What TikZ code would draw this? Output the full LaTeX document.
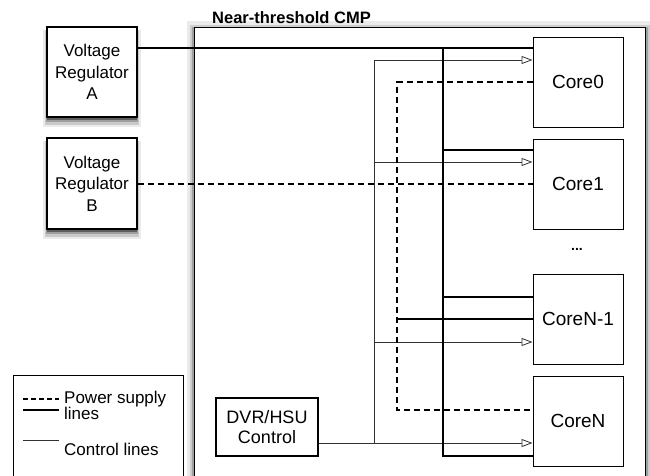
\documentclass[tikz,border=0pt]{standalone}
\usepackage{fontspec}
\setmainfont{Liberation Sans}
\usetikzlibrary{arrows.meta,shadows}
\begin{document}
\begin{tikzpicture}[x=1pt,y=-1pt,
  box/.style={draw,line width=1.3pt,fill=white,inner sep=0pt,align=center},
  core/.style={draw,line width=1pt,fill=white,minimum width=90pt,minimum height=90pt,inner sep=0pt,font=\fontsize{19}{22}\selectfont},
  pw/.style={line width=2.5pt},
  pwd/.style={line width=2.5pt,dash pattern=on 6pt off 4pt},
  ctl/.style={line width=0.8pt,draw=black!80},
  ctla/.style={ctl,-{Triangle[open,length=11pt,width=8pt,line width=0.8pt,fill=white]}},
  shd/.style={
    general shadow={shadow xshift=0pt,shadow yshift=-6pt,shadow scale=1.08,fill=black,opacity=0.08},
    general shadow={shadow xshift=0pt,shadow yshift=-5pt,shadow scale=1.05,fill=black,opacity=0.14},
    general shadow={shadow xshift=0pt,shadow yshift=-4pt,shadow scale=1.02,fill=black,opacity=0.22},
    general shadow={shadow xshift=0pt,shadow yshift=-2.5pt,shadow scale=1.00,fill=black,opacity=0.40}},
  cshd/.style={
    general shadow={shadow xshift=0pt,shadow yshift=-2pt,shadow scale=1.035,fill=black,opacity=0.08},
    general shadow={shadow xshift=0pt,shadow yshift=-2pt,shadow scale=1.022,fill=black,opacity=0.13},
    general shadow={shadow xshift=0pt,shadow yshift=-2pt,shadow scale=1.011,fill=black,opacity=0.22}},
  lbl/.style={inner sep=0pt,font=\fontsize{17}{17}\selectfont}
]
\useasboundingbox (0,0) rectangle (650,475);
\clip (0,0) rectangle (650,475);

% chip box
\node[draw,line width=1.3pt,fill=white,minimum width=451pt,minimum height=470pt,anchor=north west,inner sep=0pt,cshd] (cmp) at (194,27) {};
\node[anchor=west,inner sep=0pt,font=\bfseries\fontsize{16.5}{20}\selectfont] (title) at (212,17.5) {Near-threshold CMP};

% voltage regulators
\node[box,minimum width=90pt,minimum height=90pt,shd,font=\fontsize{17}{21.5}\selectfont] (vra) at (92,72) {Voltage\\Regulator\\A};
\node[box,minimum width=90pt,minimum height=91pt,shd,font=\fontsize{17}{21.5}\selectfont] (vrb) at (92,183.5) {Voltage\\Regulator\\B};

% cores
\node[core] (core0) at (578,82) {Core0};
\node[core] (core1) at (578,184) {Core1};
\node[inner sep=0pt,font=\bfseries\fontsize{14}{14}\selectfont] (dots) at (577,249) {...};
\node[core] (corenm) at (578,319) {CoreN-1};
\node[core] (coren) at (578,421) {CoreN};

% DVR control
\node[box,minimum width=102pt,minimum height=58pt,font=\fontsize{18}{20}\selectfont] (dvr) at (267,427) {DVR/HSU\\Control};

% junction coordinates
\coordinate (cv) at (374,60);
\coordinate (cb) at (374,443);
\coordinate (dv) at (397,82);
\coordinate (db) at (397,410);
\coordinate (pv) at (443,48);
\coordinate (pb) at (443,456);

% control lines
\draw[ctla] (dvr.east |- cb) -- (coren.west |- cb);
\draw[ctla] (cb) -- (cv) -- (core0.west |- cv);
\draw[ctla] (374,162) -- (core1.west |- 0,162);
\draw[ctla] (374,342) -- (corenm.west |- 0,342);

% dashed power lines
\draw[pwd] (vrb.east |- 0,184) -- (core1.west |- 0,184);
\draw[pwd] (core0.west |- dv) -- (dv) -- (db) -- (coren.west |- db);

% solid power lines
\draw[pw] (vra.east |- pv) -- (core0.west |- pv);
\draw[pw] (pv) -- (pb) -- (coren.west |- pb);
\draw[pw] (443,150) -- (core1.west |- 0,150);
\draw[pw] (443,297) -- (corenm.west |- 0,297);
\draw[pw] (397,319) -- (corenm.west |- 0,319);

% legend
\node[draw,line width=1.3pt,fill=white,minimum width=170pt,minimum height=120pt,anchor=north west,inner sep=0pt] (leg) at (13,375) {};
\coordinate (l1a) at (23,399); \coordinate (l1b) at (59,399);
\coordinate (l2a) at (23,410); \coordinate (l2b) at (59,410);
\coordinate (l3a) at (23,440); \coordinate (l3b) at (59,440);
\draw[line width=2.5pt,dash pattern=on 5pt off 3pt] (l1a) -- (l1b);
\draw[pw] (l2a) -- (l2b);
\draw[ctl] (l3a) -- (l3b);
\node[lbl,anchor=base west] (t1) at (64,403) {Power supply};
\node[lbl,anchor=base west] (t2) at (64,419) {lines};
\node[lbl,anchor=base west] (t3) at (64,455) {Control lines};
\end{tikzpicture}
\end{document}
